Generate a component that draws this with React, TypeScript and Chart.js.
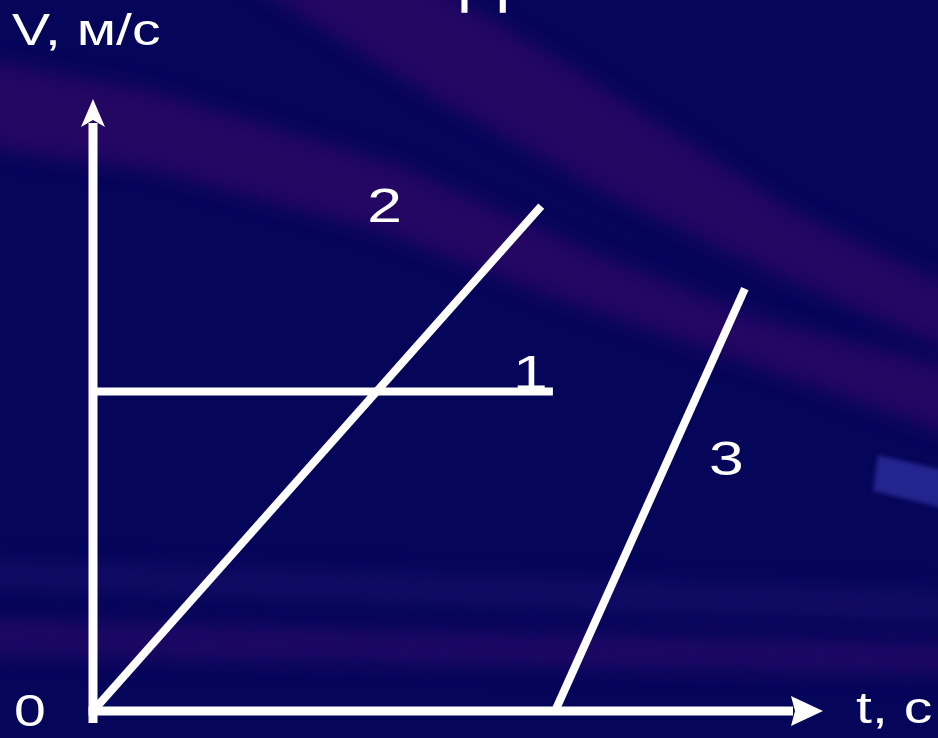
import React, { useEffect, useRef } from "react";
import { Chart, registerables } from "chart.js";

Chart.register(...registerables);

// ---- data ----
const seriesNames = ["1", "2", "3"];
const line1T = [0, 6.3];
const line1V = [5.22, 5.22];
const line2T = [0, 6.14];
const line2V = [0, 8.25];
const line3T = [6.33, 8.93];
const line3V = [0, 6.9];
const axisMax = [10, 10]; // t max, V max (arrow tips)
const yAxisLabel = "V, м/с";
const xAxisLabel = "t, с";
const originLabel = "0";
const titleFragment = "Д";

const W = 938;
const H = 738;
const FONT = '"Liberation Sans", Arial, sans-serif';
const STRETCH = 1.3;

const toPts = (ts: number[], vs: number[]) => ts.map((t, i) => ({ x: t, y: vs[i] }));

const backgroundPlugin = {
  id: "bg",
  beforeDraw(chart: any) {
    const ctx = chart.ctx as CanvasRenderingContext2D;
    ctx.save();
    ctx.fillStyle = "#05055a";
    ctx.fillRect(0, 0, W, H);
    const poly = (pts: number[][], color: string, blur: number) => {
      ctx.save();
      ctx.filter = `blur(${blur}px)`;
      ctx.fillStyle = color;
      ctx.beginPath();
      pts.forEach((p, i) => (i ? ctx.lineTo(p[0], p[1]) : ctx.moveTo(p[0], p[1])));
      ctx.closePath();
      ctx.fill();
      ctx.restore();
    };
    const purple = "rgba(38,6,100,0.95)";
    // band from top edge down to right edge (y 280..343 at right)
    poly([[228, -30], [407, -30], [560, 60], [700, 150], [800, 215], [960, 290], [960, 355], [760, 268], [600, 190], [420, 90]], purple, 10);
    // band from upper-left down to right edge (y 373..430 at right)
    poly([[-40, 55], [150, 90], [400, 165], [600, 255], [760, 318], [960, 370], [960, 438], [760, 368], [560, 300], [380, 232], [150, 170], [-40, 145]], purple, 10);
    // lower streaks
    poly([[-20, 560], [938, 590], [960, 625], [-20, 588]], "rgba(30,18,110,0.5)", 10);
    poly([[-20, 618], [400, 630], [960, 642], [960, 676], [400, 664], [-20, 656]], "rgba(40,10,105,0.7)", 10);
    // light patch at right edge
    poly([[878, 455], [960, 474], [960, 512], [873, 491]], "rgba(36,36,142,1)", 2);
    ctx.restore();
  },
};

const drawText = (ctx: CanvasRenderingContext2D, text: string, x: number, y: number) => {
  ctx.save();
  ctx.translate(x, y);
  ctx.scale(STRETCH, 1);
  ctx.fillText(text, 0, 0);
  ctx.restore();
};

const axesPlugin = {
  id: "axesArrows",
  beforeDatasetsDraw(chart: any) {
    const ctx = chart.ctx as CanvasRenderingContext2D;
    const xs = chart.scales.x;
    const ys = chart.scales.y;
    const x0 = xs.getPixelForValue(0);
    const y0 = ys.getPixelForValue(0);
    const xTip = xs.getPixelForValue(axisMax[0]);
    const yTip = ys.getPixelForValue(axisMax[1]);
    ctx.save();
    ctx.fillStyle = "#ffffff";
    // vertical axis shaft
    ctx.fillRect(x0 - 4.5, yTip + 24, 9, y0 + 12 - (yTip + 24));
    // vertical arrow head (notched)
    ctx.beginPath();
    ctx.moveTo(x0, yTip);
    ctx.lineTo(x0 + 12, yTip + 28);
    ctx.lineTo(x0, yTip + 21);
    ctx.lineTo(x0 - 12, yTip + 28);
    ctx.closePath();
    ctx.fill();
    // horizontal axis shaft
    ctx.fillRect(x0 - 4.5, y0 - 4.5, xTip - 30 - (x0 - 4.5), 9);
    // horizontal arrow head
    ctx.beginPath();
    ctx.moveTo(xTip, y0);
    ctx.lineTo(xTip - 32, y0 + 15);
    ctx.lineTo(xTip - 28, y0);
    ctx.lineTo(xTip - 32, y0 - 15);
    ctx.closePath();
    ctx.fill();
    ctx.restore();
  },
  afterDatasetsDraw(chart: any) {
    const ctx = chart.ctx as CanvasRenderingContext2D;
    const xs = chart.scales.x;
    const ys = chart.scales.y;
    const x0 = xs.getPixelForValue(0);
    const y0 = ys.getPixelForValue(0);
    const xTip = xs.getPixelForValue(axisMax[0]);
    const yTip = ys.getPixelForValue(axisMax[1]);
    ctx.save();
    ctx.fillStyle = "#ffffff";
    ctx.textAlign = "left";
    ctx.textBaseline = "alphabetic";
    // axis labels
    ctx.font = `44px ${FONT}`;
    drawText(ctx, yAxisLabel, x0 - 81, yTip - 54);
    drawText(ctx, originLabel, x0 - 79, y0 + 15);
    drawText(ctx, xAxisLabel, xTip + 33, y0 + 12);
    // series numbers
    ctx.font = `48px ${FONT}`;
    const e1 = { x: xs.getPixelForValue(line1T[1]), y: ys.getPixelForValue(line1V[1]) };
    const e2 = { x: xs.getPixelForValue(line2T[1]), y: ys.getPixelForValue(line2V[1]) };
    const e3 = { x: xs.getPixelForValue(line3T[1]), y: ys.getPixelForValue(line3V[1]) };
    drawText(ctx, seriesNames[0], e1.x - 40, e1.y - 3);
    drawText(ctx, seriesNames[1], e2.x - 174, e2.y + 16);
    drawText(ctx, seriesNames[2], e3.x - 36, e3.y + 186);
    // title fragment cut off at the top edge
    ctx.font = `68px ${FONT}`;
    ctx.fillText(titleFragment, 461, -1);
    ctx.restore();
  },
};

export default function App() {
  const ref = useRef<HTMLCanvasElement | null>(null);
  useEffect(() => {
    document.body.style.margin = "0";
    const canvas = ref.current!;
    const lineStyle = {
      borderColor: "#ffffff",
      backgroundColor: "#ffffff",
      borderWidth: 8,
      pointRadius: 0,
      showLine: true,
      fill: false,
      tension: 0,
      borderCapStyle: "butt" as const,
      clip: false as const,
    };
    const chart = new Chart(canvas, {
      type: "scatter",
      data: {
        datasets: [
          { label: seriesNames[0], data: toPts(line1T, line1V), ...lineStyle },
          { label: seriesNames[1], data: toPts(line2T, line2V), ...lineStyle },
          { label: seriesNames[2], data: toPts(line3T, line3V), ...lineStyle },
        ],
      },
      options: {
        responsive: false,
        animation: false,
        devicePixelRatio: 1,
        layout: { padding: { left: 93, top: 99, right: W - 823, bottom: H - 711 } },
        scales: {
          x: { type: "linear", min: 0, max: axisMax[0], display: false },
          y: { type: "linear", min: 0, max: axisMax[1], display: false },
        },
        plugins: {
          legend: { display: false },
          tooltip: { enabled: false },
          title: { display: false },
        },
      },
      plugins: [backgroundPlugin, axesPlugin],
    });
    return () => chart.destroy();
  }, []);
  return (
    <div style={{ position: "fixed", left: 0, top: 0, width: W, height: H }}>
      <canvas ref={ref} width={W} height={H} style={{ display: "block" }} />
    </div>
  );
}
